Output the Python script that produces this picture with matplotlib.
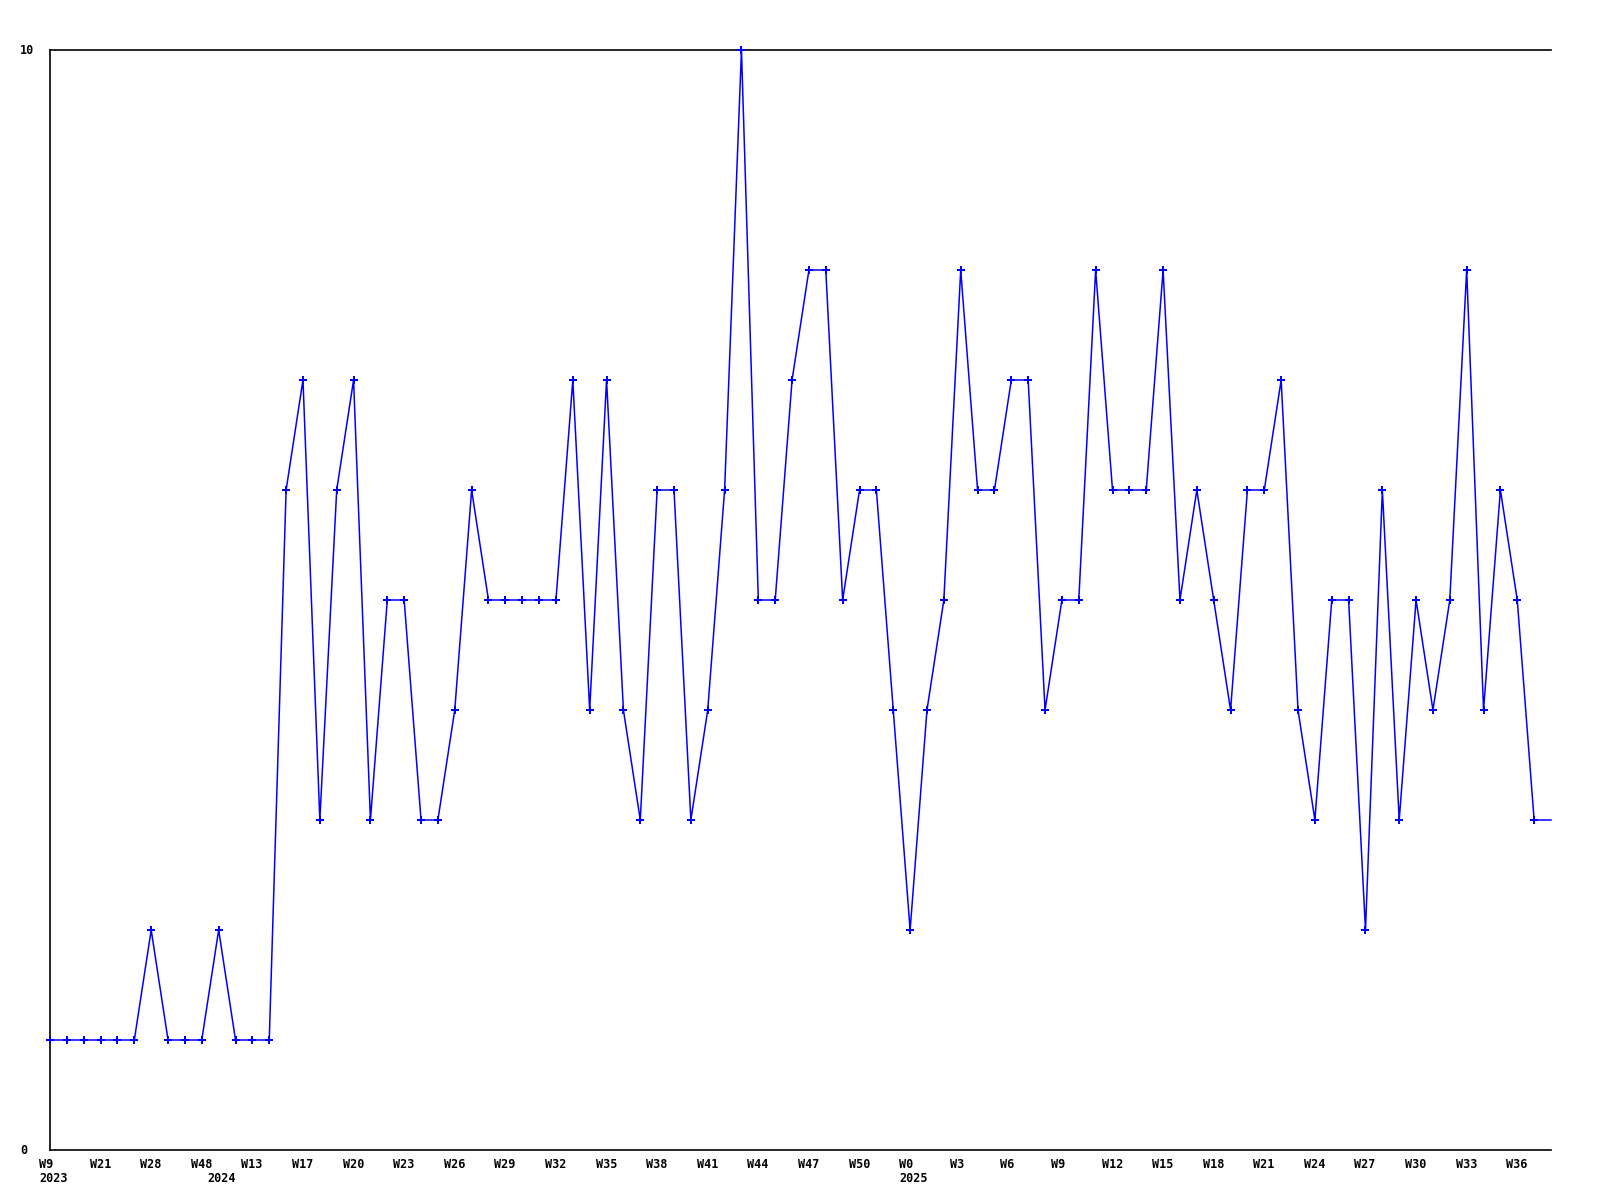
import matplotlib
matplotlib.use("Agg")
import matplotlib.pyplot as plt
from matplotlib.transforms import offset_copy

# ---- data ----
values = [1, 1, 1, 1, 1, 1, 2, 1, 1, 1,
          2, 1, 1, 1, 6, 7, 3, 6, 7, 3,
          5, 5, 3, 3, 4, 6, 5, 5, 5, 5,
          5, 7, 4, 7, 4, 3, 6, 6, 3, 4,
          6, 10, 5, 5, 7, 8, 8, 5, 6, 6,
          4, 2, 4, 5, 8, 6, 6, 7, 7, 4,
          5, 5, 8, 6, 6, 6, 8, 5, 6, 5,
          4, 6, 6, 7, 4, 3, 5, 5, 2, 6,
          3, 5, 4, 5, 8, 4, 6, 5, 3, 3]

week_labels = ["W9", "W21", "W28", "W48", "W13", "W17", "W20", "W23", "W26", "W29",
               "W32", "W35", "W38", "W41", "W44", "W47", "W50", "W0", "W3", "W6",
               "W9", "W12", "W15", "W18", "W21", "W24", "W27", "W30", "W33", "W36"]
label_step = 3

year_labels = ["2023", "2024", "2025"]
year_start_index = [0, 10, 51]

y_labels = ["0", "10"]

# ---- figure ----
W, H = 1600, 1200
fig = plt.figure(figsize=(16, 12), dpi=100)
ax = fig.add_axes([50 / W, 1 - 1150 / H, (1551 - 50) / W, (1150 - 50) / H])

x = list(range(len(values)))
ax.plot(x, values, color=(0, 0, 1), linewidth=1.1, clip_on=False, zorder=3)
ax.plot(x[:-1], values[:-1], linestyle="none", marker="P", markersize=5.5,
        color=(0, 0, 1), markeredgewidth=0, clip_on=False, zorder=4)

ax.set_xlim(0, len(values) - 1)
ax.set_ylim(0, 10)
ax.set_xticks([])
ax.set_yticks([])
for s in ["left", "bottom", "top"]:
    ax.spines[s].set_color("black")
    ax.spines[s].set_linewidth(1.2)
ax.spines["right"].set_visible(False)

font = dict(family="DejaVu Sans Mono", fontweight="bold", fontsize=8.5, color="black")

xt = ax.get_xaxis_transform()
week_tr = offset_copy(xt, fig=fig, x=-11, y=-14, units="dots")
year_tr = offset_copy(xt, fig=fig, x=-11, y=-29, units="dots")
for i, lab in enumerate(week_labels):
    ax.text(i * label_step, 0, lab, transform=week_tr, ha="left", va="center", **font)
for idx, lab in zip(year_start_index, year_labels):
    ax.text(idx, 0, lab, transform=year_tr, ha="left", va="center", **font)

fig.text(20 / W, 1 - 1150 / H, y_labels[0], ha="left", va="center", **font)
fig.text(20 / W, 1 - 50 / H, y_labels[1], ha="left", va="center", **font)

fig.savefig("out.png", dpi=100, facecolor="white")
